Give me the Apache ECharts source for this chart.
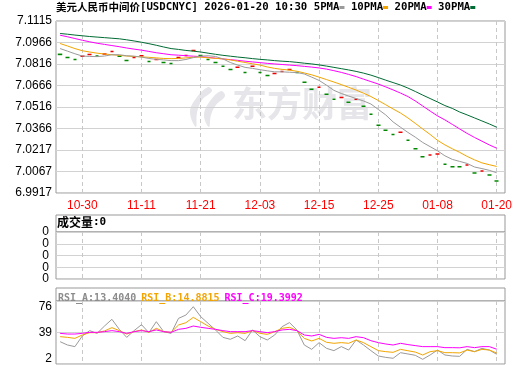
<!DOCTYPE html>
<html><head><meta charset="utf-8">
<script src="https://cdn.jsdelivr.net/npm/echarts@6/dist/echarts.min.js"></script>
<style>html,body{margin:0;padding:0;background:#fff}#c{width:520px;height:365px}</style>
</head><body><div id="c"></div>
<script>
// ---- data ----
const dates = ['10-27','10-28','10-29','10-30','10-31','11-03','11-04','11-05','11-06','11-07','11-10','11-11','11-12','11-13','11-14','11-17','11-18','11-19','11-20','11-21','11-24','11-25','11-26','11-27','11-28','12-01','12-02','12-03','12-04','12-05','12-08','12-09','12-10','12-11','12-12','12-15','12-16','12-17','12-18','12-19','12-22','12-23','12-24','12-25','12-26','12-29','12-30','12-31','01-05','01-06','01-07','01-08','01-09','01-12','01-13','01-14','01-15','01-16','01-19','01-20'];
const closes = [7.0882,7.0861,7.0847,7.0869,7.0882,7.0871,7.0886,7.0903,7.0870,7.0840,7.0861,7.0873,7.0833,7.0846,7.0826,7.0819,7.0861,7.0875,7.0910,7.0875,7.0847,7.0826,7.0799,7.0778,7.0792,7.0757,7.0799,7.0757,7.0736,7.0750,7.0764,7.0778,7.0757,7.0688,7.0639,7.0653,7.0604,7.0570,7.0583,7.0549,7.0570,7.0521,7.0465,7.0389,7.0354,7.0325,7.0341,7.0285,7.0225,7.0169,7.0181,7.0188,7.0118,7.0100,7.0099,7.0112,7.0056,7.0070,7.0042,7.0000];
const prevCloseBeforeFirst = 7.0890;
const ma5 = [7.0923,7.0905,7.0887,7.0871,7.0868,7.0867,7.0871,7.0880,7.0880,7.0873,7.0870,7.0864,7.0854,7.0848,7.0844,7.0839,7.0839,7.0847,7.0860,7.0870,7.0873,7.0868,7.0851,7.0826,7.0808,7.0792,7.0785,7.0776,7.0768,7.0761,7.0761,7.0758,7.0756,7.0746,7.0724,7.0701,7.0668,7.0632,7.0610,7.0592,7.0575,7.0558,7.0537,7.0499,7.0461,7.0412,7.0375,7.0339,7.0306,7.0269,7.0240,7.0211,7.0176,7.0151,7.0137,7.0123,7.0098,7.0087,7.0075,7.0058];
const ma10 = [7.0958,7.0941,7.0923,7.0908,7.0899,7.0891,7.0885,7.0880,7.0876,7.0871,7.0868,7.0865,7.0862,7.0858,7.0854,7.0853,7.0854,7.0858,7.0863,7.0863,7.0859,7.0855,7.0851,7.0844,7.0835,7.0826,7.0817,7.0808,7.0795,7.0785,7.0778,7.0773,7.0765,7.0753,7.0740,7.0724,7.0707,7.0690,7.0672,7.0653,7.0634,7.0612,7.0589,7.0561,7.0532,7.0502,7.0474,7.0440,7.0402,7.0363,7.0325,7.0284,7.0252,7.0225,7.0200,7.0172,7.0148,7.0127,7.0114,7.0102];
const ma20 = [7.1016,7.1005,7.0993,7.0981,7.0970,7.0960,7.0952,7.0944,7.0936,7.0927,7.0919,7.0912,7.0903,7.0894,7.0887,7.0880,7.0877,7.0873,7.0870,7.0867,7.0862,7.0856,7.0851,7.0846,7.0841,7.0835,7.0830,7.0825,7.0820,7.0816,7.0812,7.0808,7.0804,7.0799,7.0794,7.0788,7.0780,7.0769,7.0757,7.0743,7.0728,7.0710,7.0693,7.0676,7.0656,7.0635,7.0613,7.0589,7.0558,7.0523,7.0488,7.0454,7.0426,7.0395,7.0363,7.0332,7.0304,7.0278,7.0252,7.0229];
const ma30 = [7.1028,7.1023,7.1017,7.1012,7.1007,7.1003,7.0999,7.0995,7.0991,7.0984,7.0976,7.0967,7.0957,7.0946,7.0934,7.0923,7.0917,7.0910,7.0905,7.0899,7.0891,7.0883,7.0876,7.0870,7.0864,7.0859,7.0853,7.0848,7.0844,7.0839,7.0835,7.0832,7.0827,7.0821,7.0816,7.0809,7.0801,7.0792,7.0783,7.0774,7.0764,7.0752,7.0738,7.0721,7.0703,7.0686,7.0669,7.0648,7.0624,7.0599,7.0575,7.0551,7.0526,7.0506,7.0481,7.0461,7.0440,7.0419,7.0398,7.0375];
const volumes = new Array(60).fill(0);
const rsiA = [28.2,24.3,22.4,34.9,41.2,38.0,46.6,54.5,42.7,33.3,41.2,48.2,38.8,51.7,40.0,38.0,55.6,59.5,69.3,57.6,49.8,42.0,33.3,31.0,34.9,29.4,42.0,34.1,30.2,36.1,45.9,50.6,42.0,24.3,19.2,27.1,20.4,17.7,22.4,18.4,30.2,24.3,17.7,11.4,9.8,8.7,15.3,13.8,12.2,7.5,12.6,18.4,12.6,11.4,11.0,19.2,16.5,20.4,18.4,13.4];
const rsiB = [34.1,33.3,32.1,36.1,38.8,38.8,40.8,44.7,41.2,37.2,40.0,42.0,39.2,43.9,40.0,39.2,47.8,50.5,56.8,51.7,46.6,42.7,40.0,38.0,38.8,38.0,41.2,38.0,36.8,40.0,43.9,45.1,41.2,32.1,29.0,32.1,27.5,26.3,27.1,26.3,30.2,27.1,22.4,17.7,16.5,15.7,19.2,17.6,16.0,12.6,16.5,17.7,15.3,15.3,15.0,18.4,16.5,19.2,18.4,14.9];
const rsiC = [38.0,37.2,37.2,38.0,39.2,39.2,40.0,41.2,40.0,38.0,40.0,41.2,40.0,42.0,40.0,39.2,42.7,43.9,46.6,45.1,43.9,42.7,41.2,40.0,40.0,40.0,41.2,40.0,38.8,40.0,42.0,42.7,41.2,36.1,34.9,36.8,33.3,32.1,32.9,32.1,34.1,32.9,29.4,27.1,25.5,24.3,26.3,24.8,23.6,22.4,22.4,22.4,21.2,21.2,21.0,22.4,21.2,22.4,22.4,19.4];
const priceMin = 6.9917, priceMax = 7.1115, priceStep = 0.014975;
const priceTickLabels = ['6.9917','7.0067','7.0217','7.0366','7.0516','7.0666','7.0816','7.0966','7.1115'];
const volTickLabels = ['0','0','0','0','0'];
const rsiMin = 2, rsiMax = 76, rsiStep = 37;
const rsiTickLabels = ['2','39','76'];
const lastRsi = {A:'13.4040', B:'14.8815', C:'19.3992'};
const labelEvery = 8, labelOffset = 3;

// ---- build ----
const opens = closes.map((c, i) => i === 0 ? (prevCloseBeforeFirst > c ? c + 0.0001 : c) : c);
const candleData = closes.map((c, i) => [opens[i], c, Math.min(opens[i], c), Math.max(opens[i], c)]);
const showIdx = (i) => (i - labelOffset) % labelEvery === 0;

const C_GRAY = '#9a9a9a', C_ORANGE = '#f2a500', C_MAG = '#ff00ff', C_GREEN = '#006b33';
const FRAME = '#999', GRID = '#d2d2d2';
const MONO = 'DejaVu Sans Mono';
const CJK = 'Noto Sans CJK SC';
const SANS = 'Liberation Sans';

const L = 56, W = 449;
const DL = 60.1, DW = 436.6;
const P = {top: 21, h: 172};
const V = {top: 232, h: 47};
const R = {top: 301, h: 63};

function frameGrid(p){ return {left:L, top:p.top, width:W, height:p.h, show:true, borderColor:FRAME, borderWidth:1, backgroundColor:'transparent'}; }
function dataGrid(p){ return {left:DL, top:p.top, width:DW, height:p.h}; }
function hiddenX(gi){ return {type:'value', gridIndex:gi, min:0, max:1, show:false}; }
function catX(gi, labels){
  return {type:'category', gridIndex:gi, data:dates, boundaryGap:false,
    axisLine:{show:false}, axisTick:{show:false},
    axisLabel:{show:labels, interval:(i)=>showIdx(i), color:'#ff0000', fontSize:12, fontFamily:SANS, margin:7},
    splitLine:{show:true, interval:(i)=>showIdx(i), lineStyle:{color:'#c8c8c8', type:[4,3], width:1}}};
}
function hiddenY(gi, mn, mx){ return {type:'value', gridIndex:gi, min:mn, max:mx, show:false, splitLine:{show:false}}; }
// volume axis: labels split over two coincident axes (even / odd ticks) so none get auto-hidden
function volY(parity, withSplit){
  return {type:'value', gridIndex:2, position:'left', min:0, max:4, interval:1,
    axisLine:{show:false}, axisTick:{show:false},
    axisLabel:{color:'#000', fontSize:12, fontFamily:SANS, margin:7, padding:[0,0,6,0],
      showMinLabel:true, showMaxLabel:true,
      formatter:(v)=>{const i=Math.round(v); return (i%2===parity)?volTickLabels[i]:'';}},
    splitLine:{show:withSplit, lineStyle:{color:GRID, width:1}}};
}
const sq = (c) => ({width:5, height:3, backgroundColor:c, fontSize:3, verticalAlign:'middle'});

const option = {
  animation:false,
  backgroundColor:'#fff',
  title:[
    {left:56, top:2, padding:0, text:'{cn|美元人民币中间价}{m|[USDCNYC] 2026-01-20 10:30 5PMA}{k5| }{m| 10PMA}{k10| }{m| 20PMA}{k20| }{m| 30PMA}{k30| }',
     textStyle:{rich:{
       cn:{fontFamily:CJK, fontSize:10.5, color:'#000'},
       m:{fontFamily:MONO, fontSize:10.7, color:'#000'},
       k5:sq(C_GRAY), k10:sq(C_ORANGE), k20:sq(C_MAG), k30:sq(C_GREEN)
     }}},
    {left:57, top:216, padding:0, text:'{cn|成交量}{m|:0}',
     textStyle:{rich:{cn:{fontFamily:CJK, fontSize:12, color:'#000'}, m:{fontFamily:MONO, fontSize:11, color:'#000'}}}},
    {left:58, top:289, padding:0, text:'{a|RSI_A:'+lastRsi.A+'} {b|RSI_B:'+lastRsi.B+'} {c|RSI_C:'+lastRsi.C+'}',
     textStyle:{rich:{a:{fontFamily:MONO, fontSize:10, color:'#8c8c8c'}, b:{fontFamily:MONO, fontSize:10, color:C_ORANGE}, c:{fontFamily:MONO, fontSize:10, color:C_MAG}}}}
  ],
  graphic:[
    {type:'rect', shape:{x:L, y:215, width:W, height:17}, style:{fill:'none', stroke:FRAME, lineWidth:1}, silent:true},
    {type:'rect', shape:{x:L, y:288, width:W, height:13}, style:{fill:'none', stroke:FRAME, lineWidth:1}, silent:true},
    {type:'polygon', z:-1, silent:true, shape:{smooth:0.4, points:[[208,87],[197,97],[190,112],[196,127],[197,113],[202,100],[212,91]]}, style:{fill:'#e6e6ea'}},
    {type:'polygon', z:-1, silent:true, shape:{smooth:0.4, points:[[221,91],[210,101],[204,115],[209,127],[211,115],[216,105],[225,96]]}, style:{fill:'#e6e6ea'}},
    {type:'text', left:232, top:86, z:-1, silent:true, style:{text:'东方财富', fill:'#e6e6ea', font:'bold 35px "Noto Sans CJK SC"'}}
  ],
  grid:[frameGrid(P), dataGrid(P), frameGrid(V), dataGrid(V), frameGrid(R), dataGrid(R)],
  xAxis:[hiddenX(0), catX(1,true), hiddenX(2), catX(3,false), hiddenX(4), catX(5,false)],
  yAxis:[
    {type:'value', gridIndex:0, min:priceMin, max:priceMax, interval:priceStep,
      axisLine:{show:false}, axisTick:{show:false},
      axisLabel:{color:'#000', fontSize:12, fontFamily:SANS, margin:4, showMinLabel:true, showMaxLabel:true,
        formatter:(v)=>priceTickLabels[Math.round((v-priceMin)/priceStep)]},
      splitLine:{show:true, lineStyle:{color:GRID, width:1}}},
    hiddenY(1, priceMin, priceMax),
    volY(0, true),
    hiddenY(3, 0, 4),
    {type:'value', gridIndex:4, min:rsiMin, max:rsiMax, interval:rsiStep,
      axisLine:{show:false}, axisTick:{show:false},
      axisLabel:{color:'#000', fontSize:12, fontFamily:SANS, margin:4, showMinLabel:true, showMaxLabel:true,
        formatter:(v)=>{const i=Math.round((v-rsiMin)/rsiStep); const s=rsiTickLabels[i]; return i===2?'{t|'+s+'}':(i===0?'{b|'+s+'}':'{m|'+s+'}');},
        rich:{t:{padding:[11,0,0,0], fontSize:12, fontFamily:SANS, color:'#000'}, b:{padding:[0,0,10,0], fontSize:12, fontFamily:SANS, color:'#000'}, m:{fontSize:12, fontFamily:SANS, color:'#000'}}},
      splitLine:{show:true, lineStyle:{color:GRID, width:1}}},
    hiddenY(5, rsiMin, rsiMax),
    volY(1, false)
  ],
  series:[
    {type:'candlestick', xAxisIndex:1, yAxisIndex:1, data:candleData, barWidth:4, clip:false,
      itemStyle:{color:'#ee0000', color0:'#008800', borderColor:'#ee0000', borderColor0:'#008800', borderWidth:1.5}},
    {type:'line', xAxisIndex:1, yAxisIndex:1, data:ma30, showSymbol:false, lineStyle:{color:C_GREEN, width:1}},
    {type:'line', xAxisIndex:1, yAxisIndex:1, data:ma20, showSymbol:false, lineStyle:{color:C_MAG, width:1}},
    {type:'line', xAxisIndex:1, yAxisIndex:1, data:ma10, showSymbol:false, lineStyle:{color:C_ORANGE, width:1}},
    {type:'line', xAxisIndex:1, yAxisIndex:1, data:ma5, showSymbol:false, lineStyle:{color:C_GRAY, width:1}},
    {type:'bar', xAxisIndex:3, yAxisIndex:3, data:volumes, itemStyle:{color:'#888'}},
    {type:'line', xAxisIndex:5, yAxisIndex:5, data:rsiA, showSymbol:false, lineStyle:{color:C_GRAY, width:1}},
    {type:'line', xAxisIndex:5, yAxisIndex:5, data:rsiB, showSymbol:false, lineStyle:{color:C_ORANGE, width:1}},
    {type:'line', xAxisIndex:5, yAxisIndex:5, data:rsiC, showSymbol:false, lineStyle:{color:C_MAG, width:1}}
  ]
};
const chart = echarts.init(document.getElementById('c'), null, {renderer:'canvas'});
chart.setOption(option);
</script></body></html>
